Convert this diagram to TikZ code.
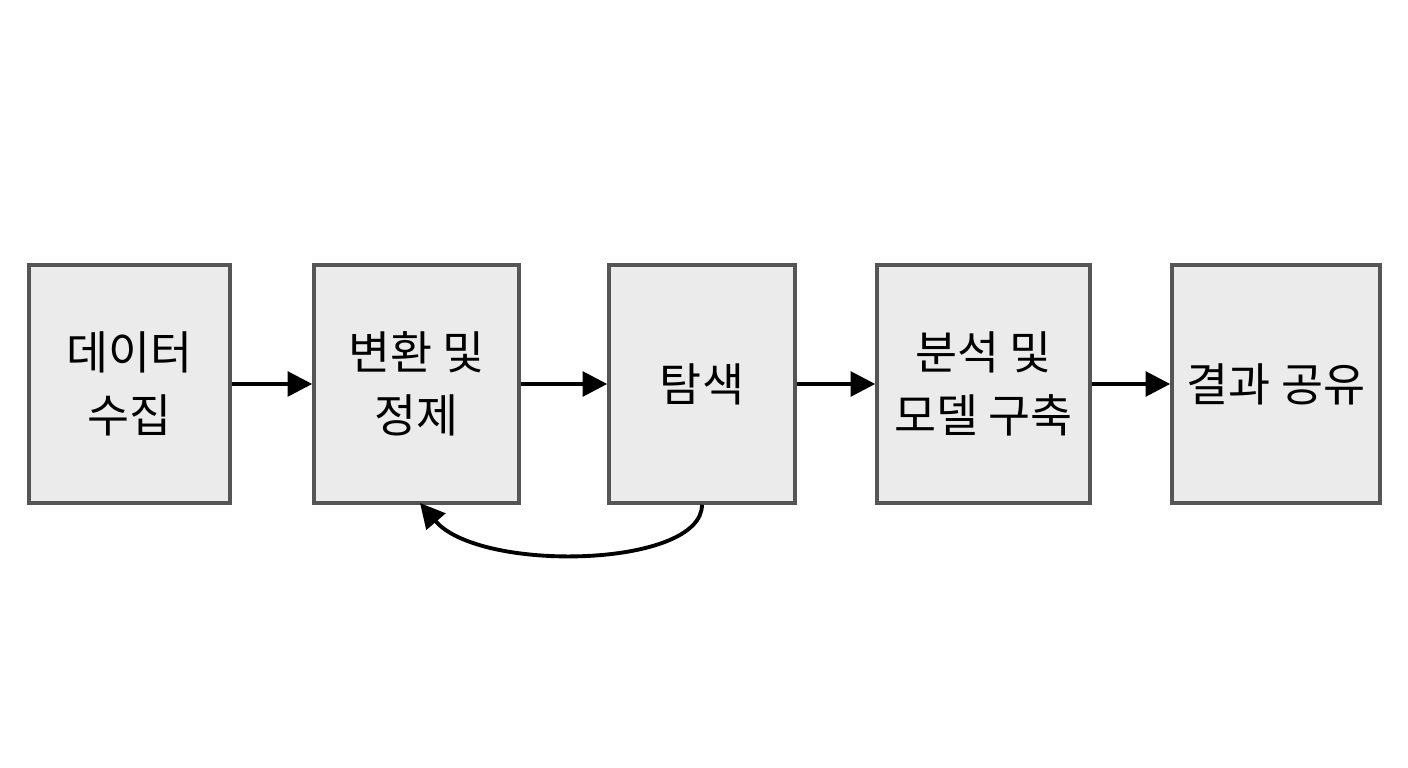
\documentclass[tikz,border=0pt]{standalone}
\usepackage{fontspec}
\setmainfont{Noto Sans CJK KR}
\usetikzlibrary{arrows.meta}
\definecolor{boxfill}{HTML}{EBEBEB}
\definecolor{boxline}{HTML}{555555}
\tikzset{
  stage/.style={draw=boxline, fill=boxfill, line width=1pt, minimum height=2.38cm, align=center, font=\fontsize{13}{18}\selectfont},
  flow/.style={-{Triangle[length=7pt,width=7pt]}, line width=1.1pt}
}
\begin{document}
\begin{tikzpicture}
            \useasboundingbox (0,0) rectangle (14.08,7.68);
            % Stages
            \node[stage, minimum width=2.01cm] (collect) at (1.295,3.84) {데이터\\수집};
            \node[stage, minimum width=2.05cm] (clean) at (4.165,3.84) {변환 및\\정제};
            \node[stage, minimum width=1.86cm] (explore) at (7.02,3.84) {탐색};
            \node[stage, minimum width=2.13cm] (model) at (9.835,3.84) {분석 및\\모델 구축};
            \node[stage, minimum width=2.08cm] (share) at (12.76,3.84) {결과 공유};
            
            % Forward arrows
            \draw[flow] (collect) -- (clean);
            \draw[flow] (clean) -- (explore);
            \draw[flow] (explore) -- (model);
            \draw[flow] (model) -- (share);
            
            % Feedback loop
            \coordinate (loopin) at (4.2,2.65);
            \draw[flow] (explore.south) .. controls (7.02,2.0) and (4.8,1.95) .. (loopin);
            
        \end{tikzpicture}
\end{document}
